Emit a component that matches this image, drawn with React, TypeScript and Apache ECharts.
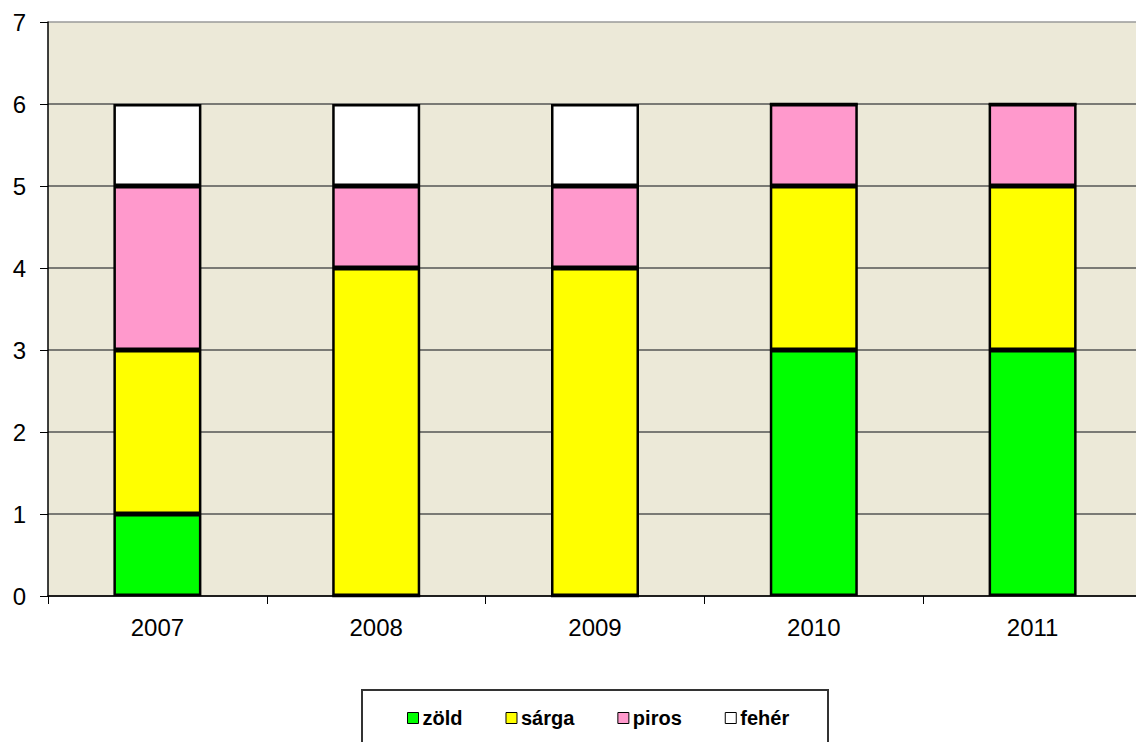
import React, { useEffect, useRef } from "react";
import * as echarts from "echarts";

const years = ["2007", "2008", "2009", "2010", "2011"];
const zold = [1, 0, 0, 3, 3];
const sarga = [2, 4, 4, 2, 2];
const piros = [2, 1, 1, 1, 1];
const feher = [1, 1, 1, 0, 0];

const seriesDefs = [
  { name: "zöld", data: zold, color: "#00FF00" },
  { name: "sárga", data: sarga, color: "#FFFF00" },
  { name: "piros", data: piros, color: "#FF99CC" },
  { name: "fehér", data: feher, color: "#FFFFFF" },
];

const FONT = "'Liberation Sans', Arial, sans-serif";

export default function App() {
  const ref = useRef<HTMLDivElement>(null);

  useEffect(() => {
    if (!ref.current) return;
    const chart = echarts.init(ref.current, null, { renderer: "svg" });
    chart.setOption({
      animation: false,
      backgroundColor: "#FFFFFF",
      grid: {
        left: 48,
        top: 22,
        width: 1094,
        height: 574,
        show: true,
        backgroundColor: "#ECE9D8",
        borderWidth: 0,
      },
      legend: {
        left: 407,
        top: 708,
        itemWidth: 11,
        itemHeight: 11,
        itemGap: 43,
        icon: "rect",
        padding: 0,
        textStyle: {
          fontFamily: FONT,
          fontSize: 20,
          fontWeight: "bold",
          color: "#000",
          padding: [0, 0, 0, -1],
        },
        itemStyle: { borderColor: "#000", borderWidth: 1 },
      },
      graphic: [
        {
          type: "rect",
          shape: { x: 362, y: 690, width: 466, height: 70 },
          style: { fill: "transparent", stroke: "#333", lineWidth: 2 },
          silent: true,
        },
      ],
      xAxis: {
        type: "category",
        data: years,
        boundaryGap: true,
        axisLine: { show: true, lineStyle: { color: "#000", width: 1.5 } },
        axisTick: { show: true, length: 8, lineStyle: { color: "#000" } },
        axisLabel: {
          margin: 19,
          fontFamily: FONT,
          fontSize: 24,
          color: "#000",
        },
      },
      yAxis: {
        type: "value",
        min: 0,
        max: 7,
        interval: 1,
        axisLine: { show: true, lineStyle: { color: "#000", width: 1.5 } },
        axisTick: { show: true, length: 8, lineStyle: { color: "#000" } },
        axisLabel: {
          margin: 22,
          fontFamily: FONT,
          fontSize: 24,
          color: "#000",
        },
        splitLine: {
          show: true,
          lineStyle: {
            color: ["#555", "#555", "#555", "#555", "#555", "#555", "#555", "#9a9a9a"],
            width: 1.5,
          },
        },
      },
      series: seriesDefs.map((s) => ({
        name: s.name,
        type: "bar",
        stack: "total",
        barWidth: 88,
        data: s.data,
        itemStyle: { color: s.color, borderColor: "#000", borderWidth: 2.5 },
      })),
    });
    return () => chart.dispose();
  }, []);

  // The plot runs slightly past the right edge of the page, so the canvas is
  // a few pixels wider than the viewport.
  return (
    <div
      ref={ref}
      style={{ position: "fixed", left: 0, top: 0, width: 1142, height: 742 }}
    />
  );
}
